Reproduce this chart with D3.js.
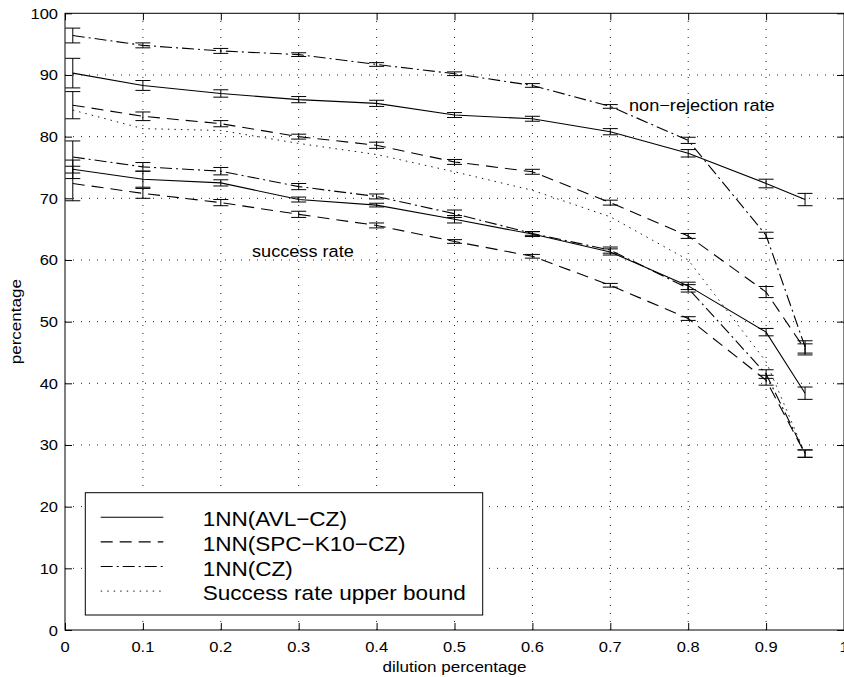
<!DOCTYPE html>
<html>
<head>
<meta charset="utf-8">
<script src="https://cdn.jsdelivr.net/npm/d3@7"></script>
<style>
    body { margin: 0; background: #fff; }
    text { font-family: "Liberation Sans", Arial, Helvetica, sans-serif; fill: #000; }
</style>
</head>
<body>
<div id="chart"></div>
<script>
// dilution values (x) shared by all series
const dilution = [0.01, 0.1, 0.2, 0.3, 0.4, 0.5, 0.6, 0.7, 0.8, 0.9, 0.95];

// non-rejection rate
const avlNonRej = [90.3, 88.3, 87.0, 86.0, 85.4, 83.5, 82.9, 80.8, 77.3, 72.4, 69.8];
const spcNonRej = [85.1, 83.3, 82.1, 80.0, 78.6, 75.9, 74.3, 69.3, 63.9, 54.8, 45.5];
const czNonRej = [96.4, 94.8, 93.9, 93.3, 91.7, 90.2, 88.3, 84.9, 79.4, 64.0, 45.9];
const avlNonRejErr = [2.4, 0.8, 0.6, 0.5, 0.5, 0.4, 0.4, 0.5, 0.6, 0.7, 1.0];
const spcNonRejErr = [2.2, 0.7, 0.5, 0.4, 0.5, 0.4, 0.4, 0.4, 0.4, 0.9, 0.9];
const czNonRejErr = [1.2, 0.4, 0.4, 0.3, 0.3, 0.3, 0.3, 0.3, 0.5, 0.5, 1.0];

// success rate
const avlSucc = [74.7, 73.1, 72.5, 69.8, 68.9, 66.6, 64.2, 61.3, 55.8, 48.3, 38.4];
const spcSucc = [72.4, 70.8, 69.3, 67.4, 65.6, 63.0, 60.6, 55.9, 50.5, 40.5, 28.6];
const czSucc = [76.7, 75.1, 74.4, 71.9, 70.3, 67.5, 64.3, 61.6, 55.4, 41.5, 28.6];
const avlSuccErr = [1.5, 1.3, 0.5, 0.4, 0.3, 0.6, 0.4, 0.5, 0.6, 0.6, 1.0];
const spcSuccErr = [2.8, 0.8, 0.5, 0.5, 0.4, 0.3, 0.3, 0.3, 0.3, 0.8, 0.6];
const czSuccErr = [2.6, 0.7, 0.6, 0.5, 0.4, 0.6, 0.3, 0.5, 0.6, 0.7, 0.6];

// success rate upper bound (no error bars)
const upperBound = [84.3, 81.3, 81.0, 78.9, 77.1, 74.3, 71.3, 67.0, 60.0, 43.5, 28.6];

const xTicks = [0, 0.1, 0.2, 0.3, 0.4, 0.5, 0.6, 0.7, 0.8, 0.9, 1];
const yTicks = [0, 10, 20, 30, 40, 50, 60, 70, 80, 90, 100];
const legendNames = ["1NN(AVL\u2212CZ)", "1NN(SPC\u2212K10\u2212CZ)", "1NN(CZ)", "Success rate upper bound"];

// line styles
const SOLID = null;
const DASHED = "12,7";
const DASHDOT = "12,4,2,4";
const DOTTED = "1.5,5";

// text is a bit wide in the original
const SX = 1.1;

const W = 844, H = 677;
const mLeft = 65, mRight = 844, mTop = 13.3, mBottom = 630;

var svg = d3.select("#chart").append("svg")
    .attr("width", W)
    .attr("height", H);

var x = d3.scaleLinear().domain([0, 1]).range([mLeft, mRight]);
var y = d3.scaleLinear().domain([0, 100]).range([mBottom, mTop]);

function label(g, px, py, str, size, anchor, rot) {
    return g.append("text")
        .attr("transform", "translate(" + px + "," + py + ")" + (rot ? " rotate(" + rot + ")" : "") + " scale(" + SX + ",1)")
        .attr("font-size", size)
        .attr("text-anchor", anchor)
        .text(str);
}

// grid
var grid = svg.append("g").attr("class", "grid")
    .attr("stroke", "#222").attr("stroke-width", 1).attr("stroke-dasharray", "1,7");
grid.selectAll(".gx").data(xTicks.slice(1, -1)).enter().append("line")
    .attr("x1", d => x(d)).attr("x2", d => x(d))
    .attr("y1", mBottom).attr("y2", mTop);
grid.selectAll(".gy").data(yTicks.slice(1, -1)).enter().append("line")
    .attr("y1", d => y(d)).attr("y2", d => y(d))
    .attr("x1", mLeft).attr("x2", mRight);

// axes with inward ticks on all sides
svg.append("g").attr("transform", "translate(0," + mBottom + ")")
    .call(d3.axisTop(x).tickValues(xTicks).tickSize(7).tickFormat(""));
svg.append("g").attr("transform", "translate(0," + mTop + ")")
    .call(d3.axisBottom(x).tickValues(xTicks).tickSize(7).tickFormat(""));
svg.append("g").attr("transform", "translate(" + mLeft + ",0)")
    .call(d3.axisRight(y).tickValues(yTicks).tickSize(7).tickFormat(""));
svg.append("g").attr("transform", "translate(" + mRight + ",0)")
    .call(d3.axisLeft(y).tickValues(yTicks).tickSize(7).tickFormat(""));
svg.selectAll(".domain").remove();
svg.selectAll(".tick line").attr("stroke", "#000");

// frame
svg.append("rect")
    .attr("x", mLeft).attr("y", mTop)
    .attr("width", mRight - mLeft).attr("height", mBottom - mTop)
    .attr("fill", "none").attr("stroke", "#000").attr("stroke-width", 1);

// tick labels
var tl = svg.append("g");
xTicks.forEach(d => label(tl, x(d), 652, d3.format("")(d), 15, "middle"));
yTicks.forEach(d => label(tl, 58, y(d) + 5.5, d, 15, "end"));

// axis titles
label(svg, (mLeft + mRight) / 2, 672, "dilution percentage", 15.5, "middle");
label(svg, 21, (mTop + mBottom) / 2, "percentage", 15.5, "middle", -90);

// series
var line = d3.line().x(d => x(d[0])).y(d => y(d[1]));
var series = [
    { v: czNonRej, e: czNonRejErr, dash: DASHDOT },
    { v: avlNonRej, e: avlNonRejErr, dash: SOLID },
    { v: spcNonRej, e: spcNonRejErr, dash: DASHED },
    { v: upperBound, e: null, dash: DOTTED },
    { v: czSucc, e: czSuccErr, dash: DASHDOT },
    { v: avlSucc, e: avlSuccErr, dash: SOLID },
    { v: spcSucc, e: spcSuccErr, dash: DASHED }
];

var plot = svg.append("g");
series.forEach(s => {
    var pts = dilution.map((d, i) => [d, s.v[i]]);
    plot.append("path")
        .datum(pts)
        .attr("fill", "none")
        .attr("stroke", "#000")
        .attr("stroke-width", s.dash === DOTTED ? 0.9 : 1.1)
        .attr("stroke-dasharray", s.dash)
        .attr("d", line);
    if (s.e) {
        var eb = plot.append("g").attr("stroke", "#000").attr("stroke-width", 1);
        dilution.forEach((d, i) => {
            var cx = x(d), lo = y(s.v[i] - s.e[i]), hi = y(s.v[i] + s.e[i]);
            eb.append("line").attr("x1", cx).attr("x2", cx).attr("y1", lo).attr("y2", hi);
            eb.append("line").attr("x1", cx - 7.5).attr("x2", cx + 7.5).attr("y1", lo).attr("y2", lo);
            eb.append("line").attr("x1", cx - 7.5).attr("x2", cx + 7.5).attr("y1", hi).attr("y2", hi);
        });
    }
});

// annotations
label(svg, 629, 110.5, "non\u2212rejection rate", 16.5, "start");
label(svg, 252, 257, "success rate", 16.5, "start");

// legend
var lg = svg.append("g");
lg.append("rect")
    .attr("x", 85.3).attr("y", 492.7)
    .attr("width", 397.4).attr("height", 122.3)
    .attr("fill", "#fff").attr("stroke", "#000").attr("stroke-width", 1);
var legendDash = [SOLID, DASHED, DASHDOT, DOTTED];
legendNames.forEach((name, i) => {
    var ry = 517.3 + i * 24.6;
    lg.append("line")
        .attr("x1", 100.7).attr("x2", 163.3)
        .attr("y1", ry).attr("y2", ry)
        .attr("stroke", "#000")
        .attr("stroke-width", legendDash[i] === DOTTED ? 0.9 : 1.1)
        .attr("stroke-dasharray", legendDash[i]);
    label(lg, 202.7, ry + 9, name, 20.5, "start");
});
</script>
</body>
</html>
